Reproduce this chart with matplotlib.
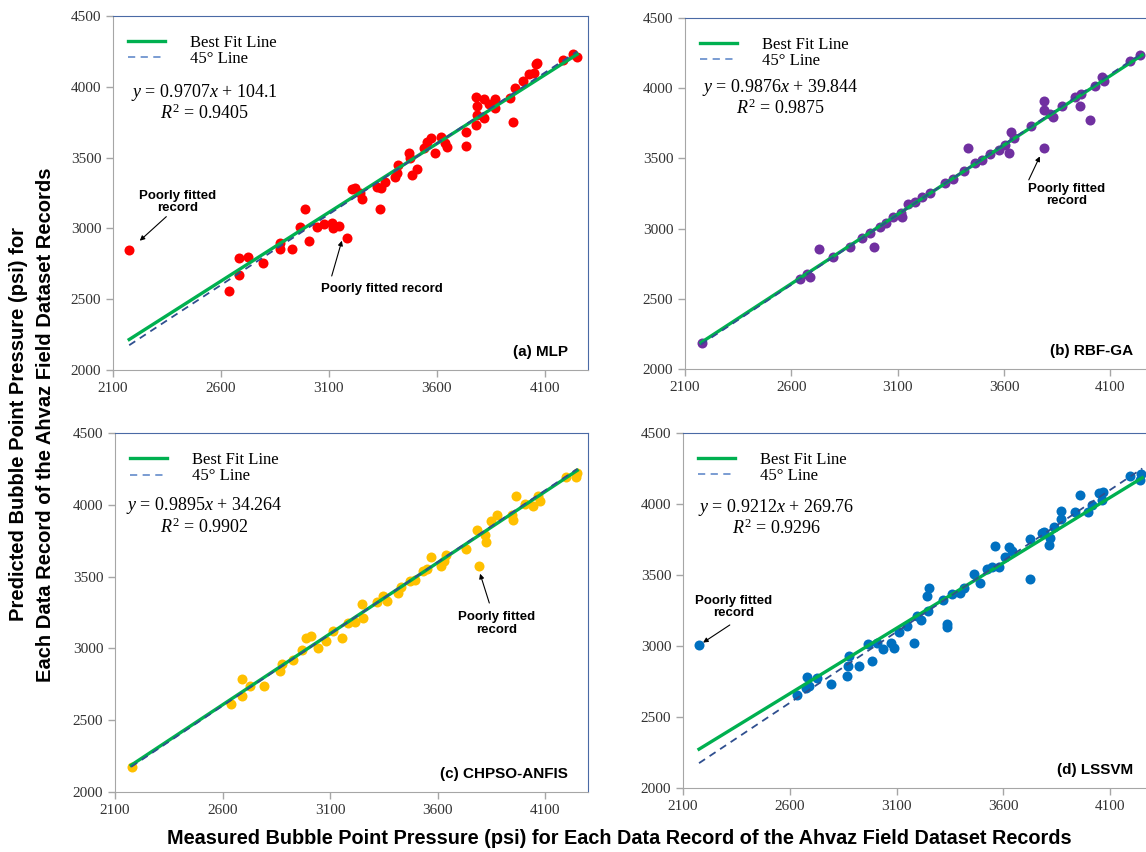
import numpy as np
import matplotlib
matplotlib.use("Agg")
from matplotlib import pyplot as plt

plt.rcParams['mathtext.fontset'] = 'custom'
plt.rcParams['mathtext.rm'] = 'Liberation Serif'
plt.rcParams['mathtext.it'] = 'Liberation Serif:italic'

# measured (x) vs predicted (y) bubble point pressure, psi
mlp_x = [2174, 2638, 2685, 2726, 2685, 2793, 2873, 2873, 2928, 2966, 2989, 3009,
         3044, 3078, 3113, 3118, 3149, 3183, 3206, 3221, 3245, 3254, 3322, 3342,
         3361, 3337, 3404, 3422, 3414, 3469, 3474, 3485, 3508, 3539, 3555, 3575,
         3590, 3621, 3640, 3647, 3736, 3736, 3783, 3820, 3786, 3840, 3871, 3871,
         3786, 3817, 3783, 3941, 3961, 3952, 4000, 4029, 4057, 4065, 4052, 4185,
         4231, 4247]
mlp_y = [2847, 2560, 2789, 2796, 2671, 2753, 2899, 2852, 2852, 3012, 3135, 2911,
         3008, 3031, 3040, 3000, 3019, 2935, 3278, 3283, 3252, 3210, 3290, 3288,
         3330, 3135, 3365, 3448, 3394, 3535, 3495, 3377, 3417, 3565, 3612, 3636,
         3535, 3643, 3605, 3577, 3683, 3584, 3926, 3914, 3865, 3879, 3912, 3848,
         3801, 3777, 3730, 3918, 3989, 3754, 4043, 4090, 4161, 4170, 4095, 4189,
         4229, 4208]

rbf_x = [2178, 2641, 2688, 2673, 2729, 2795, 2876, 2931, 2971, 2989, 3015, 3046,
         3080, 3120, 3115, 3146, 3182, 3214, 3250, 3324, 3360, 3410, 3429, 3465,
         3496, 3535, 3575, 3606, 3633, 3622, 3645, 3727, 3789, 3786, 3789, 3830,
         3873, 3818, 3935, 3956, 3962, 4003, 4025, 4061, 4069, 4191, 4241]
rbf_y = [2183, 2639, 2658, 2677, 2853, 2796, 2872, 2932, 2967, 2872, 3010, 3043,
         3081, 3081, 3110, 3176, 3193, 3224, 3252, 3324, 3352, 3407, 3573, 3466,
         3490, 3533, 3561, 3597, 3685, 3542, 3644, 3728, 3906, 3847, 3573, 3794,
         3870, 3818, 3937, 3875, 3961, 3775, 4018, 4079, 4048, 4191, 4239]

anfis_x = [2178, 2638, 2689, 2689, 2728, 2793, 2867, 2875, 2929, 2968, 2988, 3010,
           3046, 3081, 3116, 3154, 3182, 3216, 3247, 3255, 3320, 3348, 3367, 3418,
           3430, 3472, 3495, 3531, 3550, 3570, 3615, 3631, 3640, 3731, 3785, 3793,
           3821, 3824, 3847, 3875, 3948, 3953, 3964, 4007, 4046, 4069, 4077, 4196,
           4244, 4247]
anfis_y = [2174, 2615, 2787, 2666, 2736, 2736, 2840, 2891, 2922, 2991, 3072, 3089,
           3003, 3049, 3119, 3072, 3177, 3182, 3309, 3212, 3321, 3367, 3332, 3386,
           3425, 3467, 3479, 3541, 3553, 3636, 3571, 3606, 3653, 3692, 3827, 3571,
           3792, 3739, 3885, 3931, 3931, 3892, 4064, 4008, 3994, 4059, 4029, 4194,
           4194, 4222]

lssvm_x = [2175, 2634, 2675, 2691, 2681, 2725, 2792, 2869, 2873, 2878, 2925, 2967,
           2986, 3009, 3037, 3072, 3088, 3113, 3150, 3181, 3197, 3214, 3241, 3253,
           3248, 3319, 3334, 3338, 3358, 3397, 3416, 3463, 3491, 3522, 3545, 3561,
           3581, 3608, 3628, 3639, 3722, 3722, 3780, 3791, 3819, 3811, 3838, 3869,
           3869, 3936, 3956, 3998, 4014, 4045, 4061, 4066, 4190, 4238, 4244]
lssvm_y = [3008, 2656, 2703, 2715, 2785, 2773, 2731, 2792, 2860, 2933, 2862, 3015,
           2895, 3024, 2977, 3024, 2984, 3101, 3141, 3024, 3211, 3183, 3354, 3406,
           3249, 3324, 3155, 3132, 3366, 3371, 3406, 3504, 3441, 3539, 3558, 3706,
           3558, 3624, 3694, 3668, 3753, 3469, 3798, 3805, 3764, 3710, 3840, 3952,
           3893, 3945, 4062, 3945, 3992, 4074, 4027, 4081, 4198, 4172, 4214]

# regression results reported for each model
slopes = [0.9707, 0.9876, 0.9895, 0.9212]
intercepts = [104.1, 39.844, 34.264, 269.76]
r2 = ["0.9405", "0.9875", "0.9902", "0.9296"]
intercept_txt = ["104.1", "39.844", "34.264", "269.76"]
names = ["(a) MLP", "(b) RBF-GA", "(c) CHPSO-ANFIS", "(d) LSSVM"]
colors = ["#ff0000", "#7030a0", "#ffc000", "#0070c0"]
xs = [mlp_x, rbf_x, anfis_x, lssvm_x]
ys = [mlp_y, rbf_y, anfis_y, lssvm_y]

# equation block centre (x, y of first line) in data units
eq_pos = [(2522, 3959), (2550, 4008), (2514, 3994), (2537, 3975)]

# "Poorly fitted record" notes: text pos, arrow tail, arrow head, alignment
notes = [
    [("Poorly fitted\nrecord", (2221, 3271), (2347, 3083), (2224, 2913), "left"),
     ("Poorly fitted record", (3062, 2617), (3113, 2664), (3160, 2913), "left")],
    [("Poorly fitted\nrecord", (3893, 3328), (3716, 3347), (3768, 3514), "center")],
    [("Poorly fitted\nrecord", (3875, 3258), (3841, 3316), (3798, 3520), "center")],
    [("Poorly fitted\nrecord", (2339, 3359), (2319, 3148), (2194, 3024), "center")],
]

W, H = 1146, 852
fig = plt.figure(figsize=(W / 100, H / 100), dpi=100)
boxes = [(113, 16, 475, 354), (685, 18, 468, 351),
         (115, 433, 473, 359), (683, 433, 470, 355)]

serif = "Liberation Serif"
sans = "Liberation Sans"

for k in range(4):
    l, t, w, h = boxes[k]
    ax = fig.add_axes([l / W, 1 - (t + h) / H, w / W, h / H])
    ax.set_xlim(2100, 4300)
    ax.set_ylim(2000, 4500)
    ax.set_xticks([2100, 2600, 3100, 3600, 4100])
    ax.set_yticks([2000, 2500, 3000, 3500, 4000, 4500])
    for lab in ax.get_xticklabels() + ax.get_yticklabels():
        lab.set_fontfamily(serif)
    ax.tick_params(labelsize=11, colors="#a6a6a6", labelcolor="#333333",
                   length=5, width=1, direction="out")
    ax.spines["left"].set_color("#a6a6a6")
    ax.spines["bottom"].set_color("#a6a6a6")
    ax.spines["top"].set_color("#4a6aa5")
    ax.spines["right"].set_color("#4a6aa5")

    ax.scatter(xs[k], ys[k], s=52, color=colors[k], zorder=2, linewidths=0)

    xl = np.array([2175, 4250])
    fit, = ax.plot(xl, slopes[k] * xl + intercepts[k], color="#00b050", lw=2.4,
                   zorder=3, label="Best Fit Line")
    diag, = ax.plot(xl, xl, color="#2f4f8f", lw=1.3, ls=(0, (4, 3)), zorder=3,
                    label="45° Line")
    leg = ax.legend(handles=[fit, diag], loc="upper left", frameon=False,
                    bbox_to_anchor=(0.032, 0.947), borderaxespad=0, borderpad=0,
                    handlelength=2.2, handletextpad=1.5, labelspacing=0.02,
                    prop={"family": serif, "size": 12})
    leg.get_lines()[1].set_color("#6f94cf")

    ex, ey = eq_pos[k]
    ax.text(ex, ey, r"$y$ = %.4f$x$ + %s" % (slopes[k], intercept_txt[k]),
            fontsize=13, family=serif, ha="center", va="center")
    ax.text(ex, ey - 148, r"$R^2$ = %s" % r2[k],
            fontsize=13, family=serif, ha="center", va="center")

    ax.text(0.958, 0.05, names[k], transform=ax.transAxes, ha="right",
            va="center", fontsize=11, fontweight="bold", family=sans)

    for txt, tp, tail, head, al in notes[k]:
        ax.text(tp[0], tp[1], txt, ha=al, va="top", fontsize=9.5,
                fontweight="bold", family=sans, multialignment="center",
                linespacing=1.05)
        ax.annotate("", xy=head, xytext=tail,
                    arrowprops=dict(arrowstyle="-|>", color="black", lw=0.8,
                                    mutation_scale=7, shrinkA=0, shrinkB=0))

fig.text(0.028, 0.502,
         "Predicted Bubble Point Pressure (psi) for\n"
         "Each Data Record of the Ahvaz Field Dataset Records",
         rotation=90, ha="center", va="center", fontsize=14.5,
         fontweight="bold", family=sans, multialignment="center",
         linespacing=1.5)
fig.text(0.54, 0.016,
         "Measured Bubble Point Pressure (psi) for Each Data Record of the "
         "Ahvaz Field Dataset Records",
         ha="center", va="center", fontsize=14.3, fontweight="bold", family=sans)

fig.savefig("out.png", dpi=100)
